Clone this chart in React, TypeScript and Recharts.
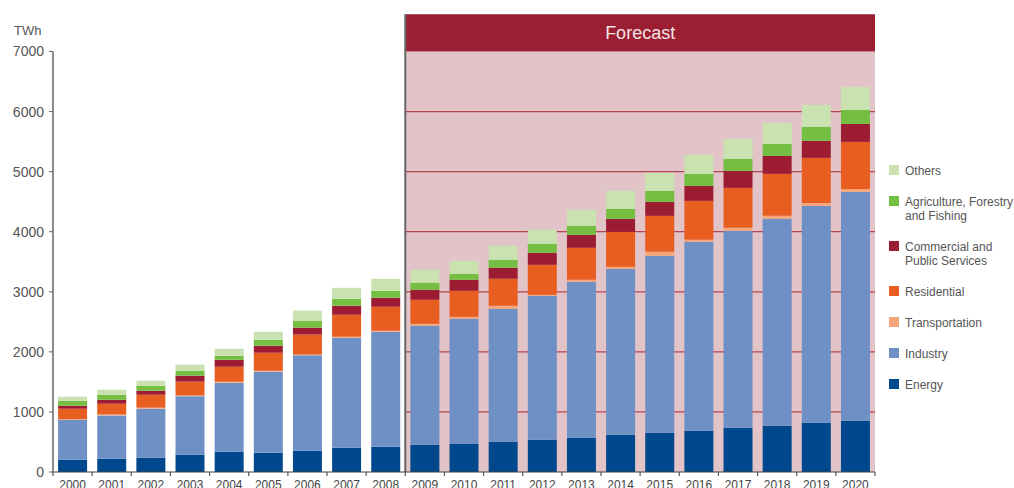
import React from 'react';
import {
  BarChart,
  Bar,
  XAxis,
  YAxis,
  ReferenceArea,
  ReferenceLine,
  Legend,
} from 'recharts';

const years = [
  '2000', '2001', '2002', '2003', '2004', '2005', '2006', '2007', '2008', '2009', '2010',
  '2011', '2012', '2013', '2014', '2015', '2016', '2017', '2018', '2019', '2020',
];
const energy = [205, 221, 238, 288, 338, 321, 354, 404, 421, 454, 471, 504, 537, 571, 621, 654, 687, 737, 770, 820, 853];
const industry = [665, 721, 815, 975, 1148, 1348, 1590, 1830, 1913, 1980, 2079, 2213, 2396, 2595, 2761, 2944, 3144, 3277, 3444, 3610, 3810];
const transportation = [8, 16, 17, 12, 16, 17, 10, 17, 17, 33, 34, 50, 17, 33, 33, 67, 34, 50, 50, 50, 50];
const residential = [175, 178, 216, 229, 250, 299, 333, 366, 399, 400, 432, 449, 499, 533, 583, 599, 648, 666, 699, 749, 782];
const commercial = [50, 67, 67, 100, 116, 116, 117, 150, 150, 166, 183, 183, 199, 216, 216, 233, 250, 282, 299, 283, 299];
const agriculture = [83, 83, 83, 84, 67, 100, 116, 116, 116, 117, 100, 133, 150, 150, 166, 183, 200, 200, 200, 233, 233];
const others = [67, 83, 83, 99, 116, 133, 166, 183, 200, 216, 216, 233, 233, 266, 300, 299, 316, 333, 349, 365, 383];

const yTicks = [0, 1000, 2000, 3000, 4000, 5000, 6000, 7000];
const yMax = 7000;
const bannerTop = 7620;
const forecastStart = '2009';
const forecastEnd = '2020';
const unitLabel = 'TWh';
const bannerLabel = 'Forecast';

const series = [
  { key: 'energy', name: 'Energy', color: '#00488d', values: energy },
  { key: 'industry', name: 'Industry', color: '#6f90c5', values: industry },
  { key: 'transportation', name: 'Transportation', color: '#f5a67b', values: transportation },
  { key: 'residential', name: 'Residential', color: '#e85d20', values: residential },
  { key: 'commercial', name: 'Commercial and\nPublic Services', color: '#9c1d31', values: commercial },
  { key: 'agriculture', name: 'Agriculture, Forestry\nand Fishing', color: '#74be42', values: agriculture },
  { key: 'others', name: 'Others', color: '#c9e2b0', values: others },
];

const data = years.map((year, i) => {
  const row: Record<string, any> = { year };
  series.forEach((s) => {
    row[s.key] = s.values[i];
  });
  return row;
});

const FONT = '"Liberation Sans", Arial, Helvetica, sans-serif';

const XTick = (props: any) => {
  const { x, y, payload, index, width, visibleTicksCount } = props;
  const half = width / (2 * visibleTicksCount);
  return (
    <g>
      <line x1={x - half} x2={x - half} y1={y} y2={y + 4} stroke="#555" strokeWidth={1.2} />
      {index === visibleTicksCount - 1 && (
        <line x1={x + half} x2={x + half} y1={y} y2={y + 4} stroke="#555" strokeWidth={1.2} />
      )}
      <text x={x} y={y + 8} dy="0.71em" textAnchor="middle" fontSize={12} fill="#444" fontFamily={FONT}>
        {payload.value}
      </text>
    </g>
  );
};

// Pink forecast background with its own horizontal grid lines (drawn behind the bars)
const ForecastBackground = (p: any) => {
  const { x, y, width, height } = p;
  return (
    <g>
      <rect x={x} y={y} width={width} height={height} fill="#e1c3c8" />
      {yTicks
        .filter((t) => t > 0 && t < yMax)
        .map((t) => {
          const ly = y + height * (1 - t / yMax);
          return (
            <line key={t} x1={x} x2={x + width} y1={ly} y2={ly} stroke="#b4464f" strokeWidth={1.2} />
          );
        })}
    </g>
  );
};

const LegendContent = () => {
  const items = [...series].reverse();
  return (
    <div style={{ fontFamily: FONT, fontSize: 12, color: '#555', lineHeight: '14px' }}>
      {items.map((it) => (
        <div key={it.key} style={{ display: 'flex', alignItems: 'flex-start', marginBottom: 17 }}>
          <span
            style={{
              width: 10,
              height: 10,
              flex: '0 0 10px',
              background: it.color,
              marginTop: 1,
            }}
          />
          <span style={{ marginLeft: 6, whiteSpace: 'pre' }}>{it.name}</span>
        </div>
      ))}
    </div>
  );
};

export default function App() {
  return (
    <div
      style={{
        position: 'absolute',
        left: 0,
        top: 0,
        width: 1014,
        height: 488,
        background: '#fff',
        fontFamily: FONT,
        overflow: 'hidden',
      }}
    >
      <div
        style={{
          position: 'absolute',
          left: 14,
          top: 23,
          fontSize: 13,
          color: '#555',
          fontFamily: FONT,
        }}
      >
        {unitLabel}
      </div>
      <BarChart
        width={1014}
        height={488}
        data={data}
        margin={{ top: 51.5, right: 139, bottom: 0, left: 0 }}
        barCategoryGap="13%"
      >
        <ReferenceArea
          x1={forecastStart}
          x2={forecastEnd}
          y1={0}
          y2={yMax}
          ifOverflow="visible"
          shape={ForecastBackground as any}
        />
        <ReferenceArea
          x1={forecastStart}
          x2={forecastEnd}
          y1={yMax}
          y2={bannerTop}
          fill="#9b1e32"
          fillOpacity={1}
          stroke="none"
          ifOverflow="visible"
          label={{ value: bannerLabel, position: 'center', fill: '#f3e4e7', fontSize: 18, fontFamily: FONT }}
        />
        <XAxis
          dataKey="year"
          height={16}
          tickSize={0}
          tickMargin={0}
          tickLine={false}
          axisLine={{ stroke: '#444', strokeWidth: 1.2 }}
          tick={<XTick />}
          interval={0}
        />
        <YAxis
          width={53}
          domain={[0, yMax]}
          ticks={yTicks}
          tickSize={4}
          tickMargin={5}
          tickLine={{ stroke: '#666' }}
          axisLine={{ stroke: '#666', strokeWidth: 1.5 }}
          tick={{ fontSize: 14, fill: '#555', fontFamily: FONT }}
          interval={0}
        />
        {series.map((s) => (
          <Bar
            key={s.key}
            dataKey={s.key}
            name={s.name}
            stackId="a"
            fill={s.color}
            isAnimationActive={false}
          />
        ))}
        <ReferenceLine
          segment={[
            { x: forecastStart, y: 0 },
            { x: forecastStart, y: bannerTop },
          ]}
          position="start"
          stroke="#666"
          strokeWidth={2}
          ifOverflow="visible"
        />
        <Legend
          layout="vertical"
          align="center"
          verticalAlign="middle"
          content={<LegendContent />}
          wrapperStyle={{ left: 889, top: 164, width: 125, right: 'auto', bottom: 'auto' }}
        />
      </BarChart>
    </div>
  );
}
